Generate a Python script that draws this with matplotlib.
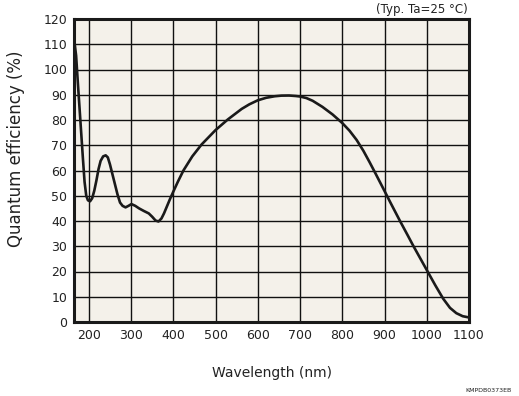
import matplotlib
matplotlib.use("Agg")
import matplotlib.pyplot as plt

wavelength = [166, 170, 174, 178, 182, 186, 190, 194, 198, 203, 208, 213, 218, 223, 228,
              234, 240, 245, 250, 256, 262, 268, 274, 280, 287, 294, 301, 310, 319, 330,
              342, 350, 358, 365, 372, 378, 385, 392, 400, 411, 424, 445, 467, 500, 529,
              562, 580, 600, 620, 640, 656, 674, 690, 700, 715, 730, 753, 777, 800, 817,
              834, 850, 865, 880, 900, 914, 937, 955, 968, 985, 1000, 1020, 1039, 1055,
              1070, 1085, 1100]
qe = [111, 105.5, 95, 85, 75, 65, 55.5, 50, 48.2, 47.8, 49, 52, 56, 60.5, 63.8,
      65.6, 66, 65.2, 62.5, 58.5, 54.5, 50.5, 47.3, 46, 45.4, 46, 46.7, 46, 45, 44,
      43, 41.7, 40.2, 39.8, 41, 43, 45.8, 48.6, 51.6, 55.6, 60, 65.6, 70.3, 76, 80.2,
      84.4, 86.2, 87.8, 88.8, 89.4, 89.65, 89.7, 89.5, 89.3, 88.7, 87.6, 85.2, 82.2, 78.8, 75.8,
      72.1, 67.8, 63.2, 58.4, 51.9, 47.3, 39.9, 34.3, 30.2, 25.1, 20.6, 14.6, 9.2, 5.6,
      3.5, 2.3, 1.8]

xticks = [200, 300, 400, 500, 600, 700, 800, 900, 1000, 1100]
yticks = list(range(0, 121, 10))

W, H = 519, 396
fig = plt.figure(figsize=(W/100, H/100), dpi=100)
ax = fig.add_axes([74/W, 1-322/H, (469-74)/W, (322-19)/H])
ax.set_facecolor("#f4f1ea")
ax.plot(wavelength, qe, color="#1a1a1a", lw=1.9, solid_joinstyle="round",
        solid_capstyle="round", zorder=3)
ax.set_xlim(165, 1100)
ax.set_ylim(0, 120)
ax.set_xticks(xticks)
ax.set_yticks(yticks)
ax.grid(True, color="#111111", lw=1.0)
ax.tick_params(length=0, labelsize=9, colors="#222222", pad=5)
for s in ax.spines.values():
    s.set_linewidth(2.2)
    s.set_color("#1a1a1a")
fig.text(272/W, 1-373/H, "Wavelength (nm)", ha="center", va="center", fontsize=10, color="#222222")
fig.text(16/W, 1-149/H, "Quantum efficiency (%)", ha="center", va="center", rotation=90,
         fontsize=12, color="#222222")
fig.text(468/W, 1-9/H, "(Typ. Ta=25 °C)", ha="right", va="center", fontsize=8.5, color="#222222")
fig.text(512/W, 1-391/H, "KMPDB0373EB", ha="right", va="center", fontsize=4.5, color="#222222")
fig.savefig("out.png", dpi=100)
